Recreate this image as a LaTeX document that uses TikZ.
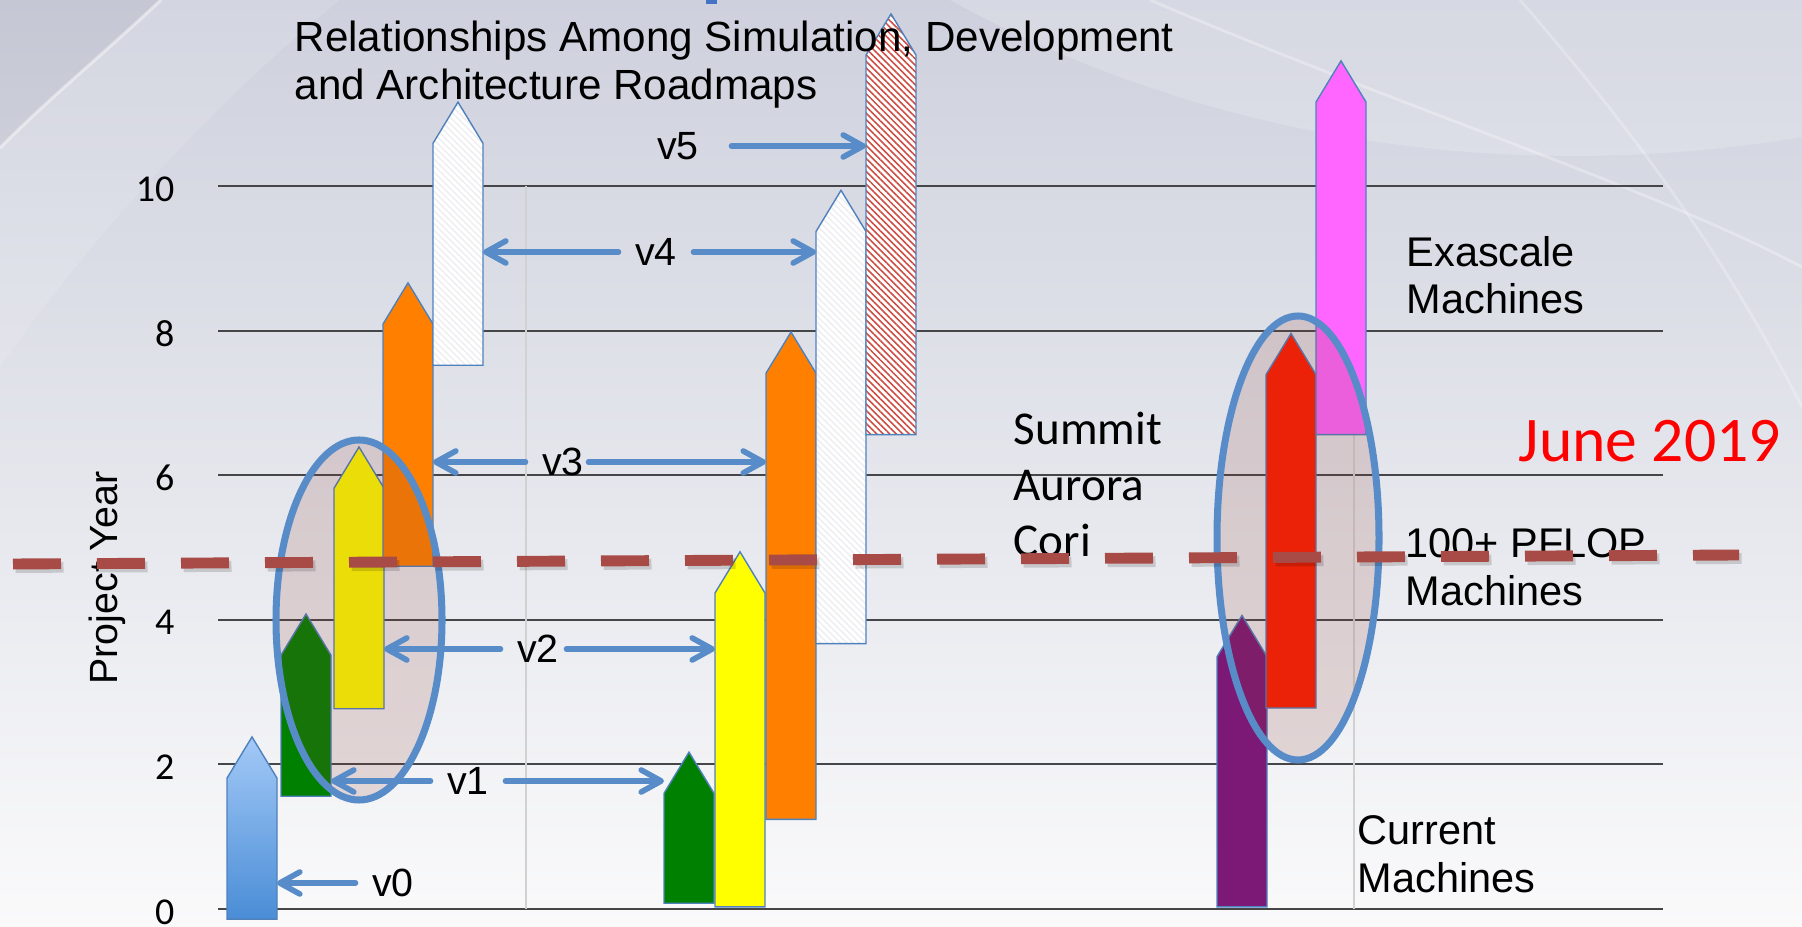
\documentclass[tikz,border=0pt]{standalone}
\usepackage{fontspec}
\setmainfont{Liberation Sans}
\newfontfamily\calib{Carlito}
\usetikzlibrary{arrows.meta,patterns.meta}

\definecolor{grn}{RGB}{0,128,0}
\definecolor{yel}{RGB}{255,255,0}
\definecolor{org}{RGB}{255,128,0}
\definecolor{pur}{RGB}{124,24,118}
\definecolor{rd}{RGB}{255,28,0}
\definecolor{mag}{RGB}{255,102,255}
\definecolor{edge}{RGB}{79,129,189}
\definecolor{linkblue}{RGB}{88,140,200}
\definecolor{ringfill}{RGB}{140,62,53}
\definecolor{dashred}{RGB}{168,75,70}
\definecolor{hatchred}{RGB}{204,78,68}
\definecolor{hatchgray}{RGB}{238,238,241}
\definecolor{gridgray}{RGB}{70,70,72}
\definecolor{skytop}{RGB}{206,209,221}
\definecolor{skymid}{RGB}{232,233,239}
\definecolor{skylow}{RGB}{250,250,251}
\definecolor{v0top}{RGB}{163,201,247}
\definecolor{v0low}{RGB}{74,141,214}
\definecolor{titleblue}{RGB}{68,114,196}

\tikzset{
  roadbar/.style={draw=edge, line width=0.4pt},
  hatchw/.style={preaction={fill=white}, pattern={Lines[angle=-45,distance=1.3pt,line width=0.4pt]}, pattern color=hatchgray},
  hatchr/.style={preaction={fill=white}, pattern={Lines[angle=-45,distance=1.3pt,line width=0.45pt]}, pattern color=hatchred},
  hline/.style={draw=gridgray, line width=0.6pt},
  vsep/.style={draw=black!18, line width=0.3pt},
  ticklab/.style={anchor=east, inner sep=0pt, yshift=-0.03cm, font=\calib\fontsize{10.8}{13}\selectfont},
  ring/.style={draw=linkblue, line width=2pt, fill=ringfill, fill opacity=0.17},
  vlabel/.style={inner sep=0.16cm, font=\fontsize{11.2}{13}\selectfont},
  vlink/.style={draw=linkblue, line width=1.6pt, line cap=round, -{Straight Barb[length=0.2cm,width=0.22cm,round]}},
  note/.style={align=left, inner sep=0pt, font=\fontsize{11.8}{13.4}\selectfont},
  datecut/.style={line width=3.1pt, dash pattern=on 0.48cm off 0.36cm},
}

% bar with a pointed top: name, look, left x, bottom, shoulder
\newcommand{\tiph}{0.57}
\newcommand{\upbar}[5]{%
  \draw[roadbar,#2] (#3,#4) coordinate (#1-l) -- (#3,#5) -- ++(0.25,\tiph)
    -- ++(0.25,-\tiph) -- (#3+0.5,#4) coordinate (#1-r) -- cycle;}

\begin{document}
\begin{tikzpicture}
\useasboundingbox (0,0) rectangle (18.02,9.27);

% slide background
\shade[top color=skytop, middle color=skymid, bottom color=skylow] (0,0) rectangle (18.02,9.27);
\fill[black, opacity=0.04] (0,9.27) -- (1.61,9.27) .. controls (1.0,8.7) and (0.45,8.25) .. (0,7.79) -- cycle;
\fill[white, opacity=0.12] (1.61,9.27) .. controls (1.0,8.7) and (0.45,8.25) .. (0,7.79)
  -- (0,5.6) .. controls (0.9,6.9) and (2.2,8.3) .. (3.4,9.27) -- cycle;
\draw[white, opacity=0.45, line width=0.9pt] (1.61,9.27) .. controls (1.0,8.7) and (0.45,8.25) .. (0,7.79);
\fill[white, opacity=0.18] (9.5,9.27) .. controls (12,7.9) and (15,7.4) .. (18.02,7.9) -- (18.02,9.27) -- cycle;
\draw[white, opacity=0.3, line width=0.8pt] (11.5,9.27) .. controls (14,8.2) and (16.5,7.4) .. (18.02,6.6);
\draw[white, opacity=0.25, line width=0.8pt] (15.2,9.27) .. controls (16.3,8.0) and (17.2,6.8) .. (18.02,5.2);
\fill[titleblue] (7.06,9.23) rectangle (7.17,9.27);

\node[rotate=90, font=\fontsize{11.2}{13}\selectfont] (ylab) at (1.07,3.49) {Project Year};

\begin{scope}[shift={(0,0.18)}, y=0.723cm]
  \foreach \yr in {0,2,...,10}{
    \draw[hline] (2.18,\yr) -- (16.63,\yr);
    \node[ticklab] (t\yr) at (1.75,\yr) {\yr};
  }
  \draw[vsep] (5.26,0) -- (5.26,10);
  \draw[vsep] (13.54,0) -- (13.54,10);

  % simulation, development and machine bars
  \upbar{blueL}{top color=v0top, bottom color=v0low}{2.27}{-0.14}{1.81}
  \upbar{greenL}{fill=grn}{2.81}{1.56}{3.51}
  \upbar{yellowL}{fill=yel}{3.34}{2.77}{5.82}
  \upbar{orangeL}{fill=org}{3.83}{4.74}{8.09}
  \upbar{whiteL}{hatchw}{4.33}{7.52}{10.59}
  \upbar{greenM}{fill=grn}{6.64}{0.08}{1.60}
  \upbar{yellowM}{fill=yel}{7.15}{0.03}{4.37}
  \upbar{orangeM}{fill=org}{7.66}{1.24}{7.41}
  \upbar{whiteM}{hatchw}{8.16}{3.67}{9.37}
  \upbar{hatchM}{hatchr}{8.66}{6.56}{11.81}
  \upbar{purpleR}{fill=pur}{12.17}{0.03}{3.49}
  \upbar{redR}{fill=rd}{12.66}{2.78}{7.39}
  \upbar{magentaR}{fill=mag}{13.16}{6.56}{11.16}
\end{scope}

\draw[ring] (3.59,3.07) ellipse [x radius=0.83, y radius=1.80];
\draw[ring] (12.98,3.89) ellipse [x radius=0.81, y radius=2.22];

\node[note, anchor=north west, font=\fontsize{12}{13.7}\selectfont] (heading) at (2.94,9.067)
  {Relationships Among Simulation, Development\\and Architecture Roadmaps};

% version labels and links
\node[vlabel] (v0) at (3.93,0.44) {v0};
\node[vlabel] (v1) at (4.68,1.46) {v1};
\node[vlabel] (v2) at (5.38,2.78) {v2};
\node[vlabel] (v3) at (5.63,4.65) {v3};
\node[vlabel] (v4) at (6.56,6.75) {v4};
\node[vlabel] (v5) at (6.78,7.81) {v5};
\draw[vlink] (v0.west) -- (v0.west -| blueL-r);
\draw[vlink] (v1.west) -- (v1.west -| greenL-r);
\draw[vlink] (v1.east) -- (v1.east -| greenM-l);
\draw[vlink] (v2.west) -- (v2.west -| yellowL-r);
\draw[vlink, shorten <=-0.09cm] (v2.east) -- (v2.east -| yellowM-l);
\draw[vlink] (v3.west) -- (v3.west -| orangeL-r);
\draw[vlink, shorten <=-0.12cm] (v3.east) -- (v3.east -| orangeM-l);
\draw[vlink] (v4.west) -- (v4.west -| whiteL-r);
\draw[vlink] (v4.east) -- (v4.east -| whiteM-l);
\draw[vlink, shorten <=0.16cm] (v5.east) -- (v5.east -| hatchM-l);

\node[note, anchor=north west, font=\calib\fontsize{13.4}{15.9}\selectfont] (sites) at (10.13,5.155) {Summit\\Aurora\\Cori};
\node[note, anchor=north west] (exa) at (14.06,6.917) {Exascale\\Machines};
\node[note, anchor=north west] (pflop) at (14.05,3.987) {100+ PFLOP\\Machines};
\node[note, anchor=north west] (curr) at (13.57,1.117) {Current\\Machines};
\node[anchor=base west, inner sep=0pt, text=red, font=\calib\fontsize{18.1}{21}\selectfont] (date) at (15.18,4.65) {June 2019};

% today line
\coordinate (dashL) at (0.13,3.63);
\coordinate (dashR) at (17.39,3.72);
\draw[datecut, draw=black, opacity=0.15] ([shift={(0.025,-0.035)}]dashL) -- ([shift={(0.025,-0.035)}]dashR);
\draw[datecut, draw=dashred] (dashL) -- (dashR);
\end{tikzpicture}
\end{document}
